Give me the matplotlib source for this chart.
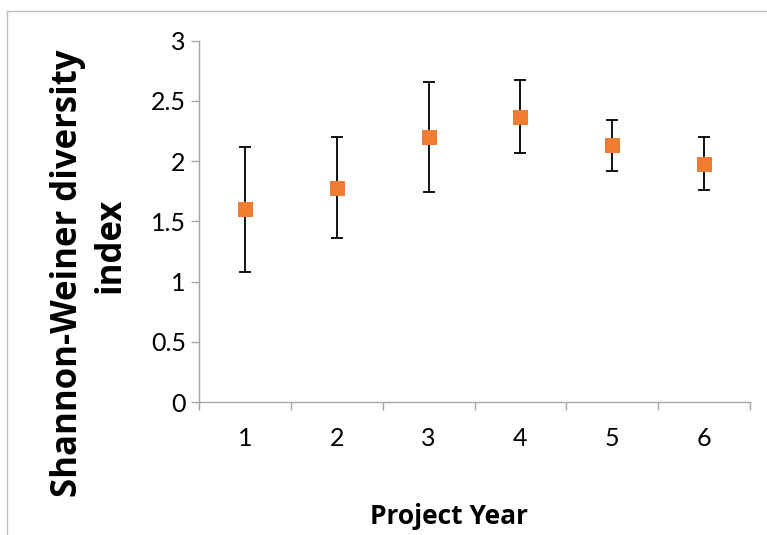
import matplotlib
matplotlib.use("Agg")
import matplotlib.pyplot as plt
from matplotlib.lines import Line2D

years = ["1", "2", "3", "4", "5", "6"]
means = [1.60, 1.78, 2.20, 2.37, 2.13, 1.98]
errors = [0.52, 0.42, 0.46, 0.30, 0.21, 0.22]
y_ticks = [0, 0.5, 1, 1.5, 2, 2.5, 3]
y_tick_labels = ["0", "0.5", "1", "1.5", "2", "2.5", "3"]

DPI = 100
fig = plt.figure(figsize=(7.67, 5.35), dpi=DPI)
plt.rcParams['font.family'] = ['Lato', 'DejaVu Sans']

ax = fig.add_axes([199/767, 1-402/535, (750-199)/767, (402-40.7)/535])

xs = list(range(1, len(years)+1))
ax.errorbar(xs, means, yerr=errors, fmt='none', ecolor='black', elinewidth=1.3,
            capsize=4.6, capthick=1.3, zorder=2)
ax.plot(xs, means, linestyle='none', marker='s', markersize=10.8,
        color='#ED7D31', markeredgewidth=0, zorder=3)

ax.set_xlim(0.5, len(years)+0.5)
ax.set_ylim(0, 3)
ax.set_yticks(y_ticks)
ax.set_yticklabels(y_tick_labels)
ax.set_xticks([i+0.5 for i in range(0, len(years)+1)])
ax.set_xticklabels([])
ax.set_xticks(xs, minor=True)
ax.set_xticklabels(years, minor=True)

spine_col = '#A6A6A6'
for s in ['top', 'right']:
    ax.spines[s].set_visible(False)
for s in ['left', 'bottom']:
    ax.spines[s].set_color(spine_col)
    ax.spines[s].set_linewidth(1.0)

ax.tick_params(axis='y', which='major', direction='out', length=5.5, width=1.0,
               color=spine_col, labelsize=18, pad=4, labelcolor='black')
ax.tick_params(axis='x', which='major', direction='out', length=5.5, width=1.0,
               color=spine_col)
ax.tick_params(axis='x', which='minor', length=0, labelsize=18, pad=18,
               labelcolor='black')

title_font = ['Open Sans', 'DejaVu Sans']
# Axis titles
fig.text(449/767, 1-516/535, "Project Year", ha='center', va='center',
         fontsize=19, fontweight='bold', family=title_font)
fig.text(68/767, 1-273.5/535, "Shannon-Weiner diversity", rotation=90, ha='center',
         va='center', fontsize=25, fontweight='bold', family=title_font)
fig.text(110/767, 1-245/535, "index", rotation=90, ha='center', va='center',
         fontsize=25, fontweight='bold', family=title_font)

# chart area border (partially visible)
border_col = '#BFBFBF'
fig.add_artist(Line2D([7/767, 1.0], [1-11/535, 1-11/535], color=border_col, lw=1.0,
                      transform=fig.transFigure))
fig.add_artist(Line2D([7/767, 7/767], [0.0, 1-11/535], color=border_col, lw=1.0,
                      transform=fig.transFigure))

fig.savefig("out.png", dpi=DPI)
